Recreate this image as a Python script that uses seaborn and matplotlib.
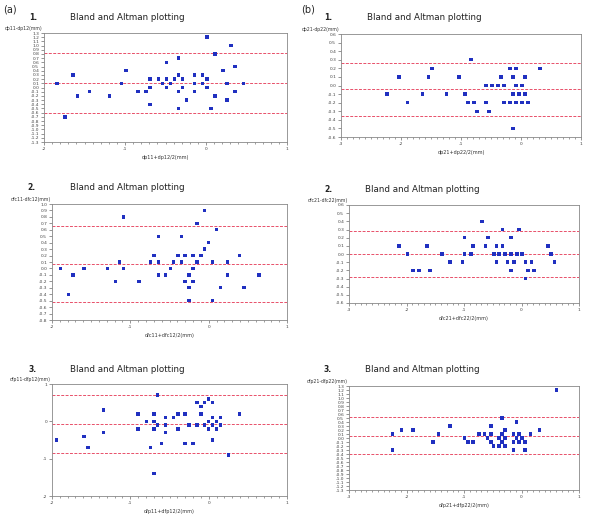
import matplotlib
matplotlib.use("Agg")
import matplotlib.pyplot as plt
import seaborn as sns
import pandas as pd
from matplotlib.ticker import MultipleLocator, FormatStrFormatter

# Style
sns.set_style("ticks")
plt.rcParams["font.family"] = ["DejaVu Sans"]

# (a)1 dp11 / dp12
a1_x = [-1.84, -1.74, -1.64, -1.59, -1.44, -1.19, -1.04, -0.99, -0.84, -0.74,
        -0.69, -0.69, -0.69, -0.59, -0.54, -0.49, -0.49, -0.49, -0.44, -0.39,
        -0.34, -0.34, -0.34, -0.34, -0.29, -0.29, -0.24, -0.14, -0.14, -0.14,
        -0.04, -0.04, 0.01, 0.01, 0.01, 0.06, 0.11, 0.11, 0.21, 0.26,
        0.26, 0.31, 0.36, 0.36, 0.46]
a1_y = [0.1, -0.7, 0.3, -0.2, -0.1, -0.2, 0.1, 0.4, -0.1, -0.1,
        0.2, 0.0, -0.4, 0.2, 0.1, 0.6, 0.2, 0.0, 0.1, 0.2,
        0.7, 0.3, -0.1, -0.5, 0.2, 0.0, -0.3, 0.3, 0.1, -0.1,
        0.3, 0.1, 1.2, 0.2, 0.0, -0.5, 0.8, -0.2, 0.4, 0.1,
        -0.3, 1.0, 0.5, -0.1, 0.1]
a1_lines = [0.82, 0.11, -0.62]

# (b)1 dp21 / dp22
b1_x = [-2.23, -2.03, -1.89, -1.64, -1.54, -1.48, -1.24, -1.03, -0.93, -0.88,
        -0.83, -0.78, -0.73, -0.58, -0.58, -0.53, -0.48, -0.38, -0.33, -0.28,
        -0.28, -0.18, -0.18, -0.13, -0.13, -0.13, -0.08, -0.08, -0.08, -0.03,
        0.02, 0.02, 0.07, 0.07, 0.12, 0.32]
b1_y = [-0.1, 0.1, -0.2, -0.1, 0.1, 0.2, -0.1, 0.1, -0.1, -0.2,
        0.3, -0.2, -0.3, 0.0, -0.2, -0.3, 0.0, 0.0, 0.1, 0.0,
        -0.2, 0.2, -0.2, 0.1, -0.1, -0.5, 0.2, 0.0, -0.2, -0.1,
        0.0, -0.2, 0.1, -0.1, -0.2, 0.2]
b1_lines = [0.265, -0.045, -0.35]

# (a)2 dfc11 / dfc12
a2_x = [-1.89, -1.79, -1.73, -1.59, -1.29, -1.19, -1.14, -1.09, -1.09, -0.89,
        -0.74, -0.70, -0.64, -0.64, -0.64, -0.55, -0.49, -0.45, -0.39, -0.35,
        -0.35, -0.30, -0.30, -0.25, -0.25, -0.25, -0.20, -0.20, -0.20, -0.15,
        -0.15, -0.10, -0.05, -0.05, 0.0, 0.05, 0.05, 0.10, 0.15, 0.24,
        0.24, 0.39, 0.45, 0.64]
a2_y = [0.0, -0.4, -0.1, 0.0, 0.0, -0.2, 0.1, 0.8, 0.0, -0.2,
        0.1, 0.2, 0.5, 0.1, -0.1, -0.1, 0.0, 0.1, 0.2, 0.5,
        0.1, 0.2, -0.2, -0.1, -0.3, -0.5, 0.2, 0.0, -0.2, 0.7,
        0.1, 0.2, 0.3, 0.9, 0.4, 0.1, -0.5, 0.6, -0.3, 0.1,
        -0.1, 0.2, -0.3, -0.1]
a2_lines = [0.66, 0.07, -0.52]

# (b)2 dfc21 / dfc22
b2_x = [-2.13, -1.98, -1.89, -1.78, -1.64, -1.59, -1.38, -1.24, -1.03, -0.99,
        -0.99, -0.88, -0.84, -0.69, -0.63, -0.58, -0.48, -0.43, -0.43, -0.39,
        -0.33, -0.33, -0.29, -0.24, -0.18, -0.18, -0.18, -0.13, -0.08, -0.04,
        0.01, 0.07, 0.07, 0.11, 0.17, 0.22, 0.46, 0.51, 0.57]
b2_y = [0.1, 0.0, -0.2, -0.2, 0.1, -0.2, 0.0, -0.1, -0.1, 0.2,
        0.0, 0.0, 0.1, 0.4, 0.1, 0.2, 0.0, 0.1, -0.1, 0.0,
        0.3, 0.1, 0.0, -0.1, 0.2, 0.0, -0.2, -0.1, 0.0, 0.3,
        0.0, -0.1, -0.3, -0.2, -0.1, -0.2, 0.1, 0.0, -0.1]
b2_lines = [0.28, 0.0, -0.285]

# (a)3 dfp11 / dfp12
a3_x = [-1.94, -1.59, -1.54, -1.34, -1.34, -0.90, -0.90, -0.79, -0.74, -0.70,
        -0.70, -0.70, -0.70, -0.65, -0.65, -0.60, -0.55, -0.55, -0.55, -0.45,
        -0.39, -0.39, -0.30, -0.30, -0.25, -0.20, -0.15, -0.15, -0.10, -0.10,
        -0.05, -0.05, 0.0, 0.0, 0.0, 0.05, 0.05, 0.05, 0.05, 0.10,
        0.10, 0.15, 0.15, 0.25, 0.39]
a3_y = [-0.5, -0.4, -0.7, 0.3, -0.3, 0.2, -0.2, 0.0, -0.7, 0.2,
        0.0, -0.2, -1.4, 0.7, -0.1, -0.6, 0.1, -0.1, -0.3, 0.1,
        0.2, -0.2, 0.2, -0.6, -0.1, -0.6, 0.5, -0.1, 0.4, 0.2,
        0.5, -0.1, 0.6, 0.0, -0.2, 0.5, 0.1, -0.1, -0.5, 0.0,
        -0.2, 0.1, -0.1, -0.9, 0.2]
a3_lines = [0.71, -0.08, -0.86]

# (b)3 dfp21 / dfp22
b3_x = [-2.24, -2.24, -2.09, -1.89, -1.54, -1.44, -1.24, -0.99, -0.93, -0.84,
        -0.74, -0.64, -0.59, -0.53, -0.53, -0.53, -0.49, -0.39, -0.39, -0.34,
        -0.34, -0.34, -0.29, -0.29, -0.29, -0.14, -0.14, -0.14, -0.09, -0.09,
        -0.04, -0.04, 0.01, 0.06, 0.06, 0.16, 0.31, 0.61]
b3_y = [0.1, -0.3, 0.2, 0.2, -0.1, 0.1, 0.3, 0.0, -0.1, -0.1,
        0.1, 0.1, 0.0, 0.3, 0.1, -0.1, -0.2, 0.0, -0.2, 0.5,
        0.1, -0.1, 0.2, 0.0, -0.2, 0.1, -0.1, -0.3, 0.4, 0.0,
        0.1, -0.1, 0.0, -0.1, -0.3, 0.1, 0.2, 1.2]
b3_lines = [0.53, 0.06, -0.40]

# Panel setup (pixel positions of the original figure, 600 x 524)
W, H = 600, 524
panels = [
    # x, y, lines, ylabel, xlabel, ylim, ystep, xlim, box (l, t, r, b px), number, header (num x, title x, y px)
    (a1_x, a1_y, a1_lines, "dp11-dp12(mm)", "dp11+dp12/2(mm)", (-1.3, 1.3), 0.1, (-2, 1),
     (44, 33, 287, 142), "1.", (33, 127, 17)),
    (a2_x, a2_y, a2_lines, "dfc11-dfc12(mm)", "dfc11+dfc12/2(mm)", (-0.8, 1.0), 0.1, (-2, 1),
     (52, 204, 287, 320), "2.", (31, 127, 188)),
    (a3_x, a3_y, a3_lines, "dfp11-dfp12(mm)", "dfp11+dfp12/2(mm)", (-2, 1), 1, (-2, 1),
     (52, 384, 287, 496), "3.", (33, 127, 369)),
    (b1_x, b1_y, b1_lines, "dp21-dp22(mm)", "dp21+dp22/2(mm)", (-0.6, 0.6), 0.1, (-3, 1),
     (341, 34, 581, 137), "1.", (328, 424, 18)),
    (b2_x, b2_y, b2_lines, "dfc21-dfc22(mm)", "dfc21+dfc22/2(mm)", (-0.6, 0.6), 0.1, (-3, 1),
     (349, 205, 579, 303), "2.", (328, 422, 190)),
    (b3_x, b3_y, b3_lines, "dfp21-dfp22(mm)", "dfp21+dfp22/2(mm)", (-1.3, 1.3), 0.1, (-3, 1),
     (349, 386, 579, 490), "3.", (328, 422, 370)),
]

fig = plt.figure(figsize=(6, 5.24), dpi=100)

for x, y, lines, ylab, xlab, ylim, ystep, xlim, box, num, head in panels:
    l, t, r, b = box
    ax = fig.add_axes([l / W, 1 - b / H, (r - l) / W, (b - t) / H])
    df = pd.DataFrame({"x": x, "y": y})
    sns.scatterplot(data=df, x="x", y="y", ax=ax, marker="s", s=6,
                    color="#2030c0", edgecolor="none", linewidth=0, zorder=3)
    for v in lines:
        ax.axhline(v, color="#e8506a", linestyle=(0, (3, 1.5)), linewidth=0.7)
    ax.set_xlim(xlim)
    ax.set_ylim(ylim)
    ax.xaxis.set_major_locator(MultipleLocator(1))
    ax.xaxis.set_minor_locator(MultipleLocator(0.1))
    ax.xaxis.set_major_formatter(FormatStrFormatter("%d"))
    ax.yaxis.set_major_locator(MultipleLocator(ystep))
    if ystep < 1:
        ax.yaxis.set_major_formatter(FormatStrFormatter("%.1f"))
    else:
        ax.yaxis.set_major_formatter(FormatStrFormatter("%d"))
    ax.tick_params(axis="both", which="major", labelsize=3.2, length=2, width=0.4,
                   pad=1.5, colors="#444444")
    ax.tick_params(axis="x", which="minor", length=1.2, width=0.4, colors="#555555")
    for sp in ax.spines.values():
        sp.set_color("#888888")
        sp.set_linewidth(0.6)
    ax.set_xlabel(xlab, fontsize=3.5, labelpad=3, color="#333333")
    ax.set_ylabel("")
    ax.text(-0.005, 1.02, ylab, transform=ax.transAxes, ha="right", va="bottom",
            fontsize=3.3, color="#333333")
    # title and panel number
    nx, tx, ty = head
    fig.text(tx / W, 1 - ty / H, "Bland and Altman plotting", ha="center",
             va="center", fontsize=6.3, color="#222222")
    fig.text(nx / W, 1 - ty / H, num, ha="center", va="center",
             fontsize=5.5, fontweight="bold", color="#222222")

fig.text(3 / W, 1 - 9 / H, "(a)", ha="left", va="center", fontsize=7)
fig.text(301 / W, 1 - 9 / H, "(b)", ha="left", va="center", fontsize=7)

plt.savefig("out.png", dpi=100, facecolor="white")
